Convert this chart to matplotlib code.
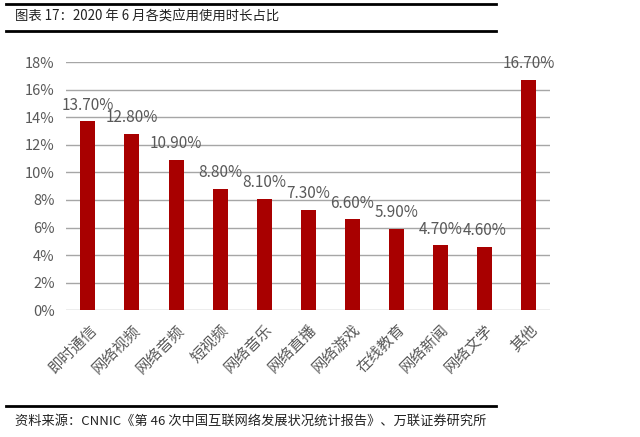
import matplotlib
matplotlib.use('Agg')
import matplotlib.pyplot as plt

plt.rcParams['font.family'] = ['Noto Sans CJK SC', 'DejaVu Sans']

# app categories and share of usage time (%), June 2020
categories = ['即时通信', '网络视频', '网络音频', '短视频', '网络音乐', '网络直播',
              '网络游戏', '在线教育', '网络新闻', '网络文学', '其他']
shares = [13.70, 12.80, 10.90, 8.80, 8.10, 7.30, 6.60, 5.90, 4.70, 4.60, 16.70]
yticks = [0, 2, 4, 6, 8, 10, 12, 14, 16, 18]

fig = plt.figure(figsize=(6.4, 4.37), dpi=100)
ax = fig.add_axes([0.103, 0.29, 0.757, 0.568])

x = range(len(categories))
ax.bar(x, shares, width=0.34, color='#A80000', zorder=3)
for i, v in zip(x, shares):
    ax.text(i, v + 0.55, '%.2f%%' % v, ha='center', va='bottom',
            fontsize=11, color='#595959')

ax.set_xlim(-0.5, len(categories) - 0.5)
ax.set_ylim(0, 18)
ax.set_yticks(yticks)
ax.set_yticklabels(['%d%%' % t for t in yticks], fontsize=10.5, color='#595959')
ax.set_xticks(list(x))
ax.set_xticklabels(categories, rotation=45, ha='right', rotation_mode='anchor',
                   fontsize=11, color='#595959')
ax.tick_params(length=0, pad=8)
ax.yaxis.grid(True, color='#A6A6A6', linewidth=1, zorder=0)
for s in ax.spines.values():
    s.set_visible(False)

# header and footer rules
fig.add_artist(plt.Line2D([0.01, 0.775], [0.99, 0.99], color='black', lw=2))
fig.add_artist(plt.Line2D([0.01, 0.775], [0.928, 0.928], color='black', lw=2))
fig.add_artist(plt.Line2D([0.01, 0.775], [0.072, 0.072], color='black', lw=2))
fig.text(0.024, 0.962, '图表 17：2020 年 6 月各类应用使用时长占比', fontsize=9.6,
         va='center', color='#222222')
fig.text(0.024, 0.036, '资料来源：CNNIC《第 46 次中国互联网络发展状况统计报告》、万联证券研究所',
         fontsize=9.5, va='center', style='italic', color='#222222')

fig.savefig('out.png', dpi=100, facecolor='white')
